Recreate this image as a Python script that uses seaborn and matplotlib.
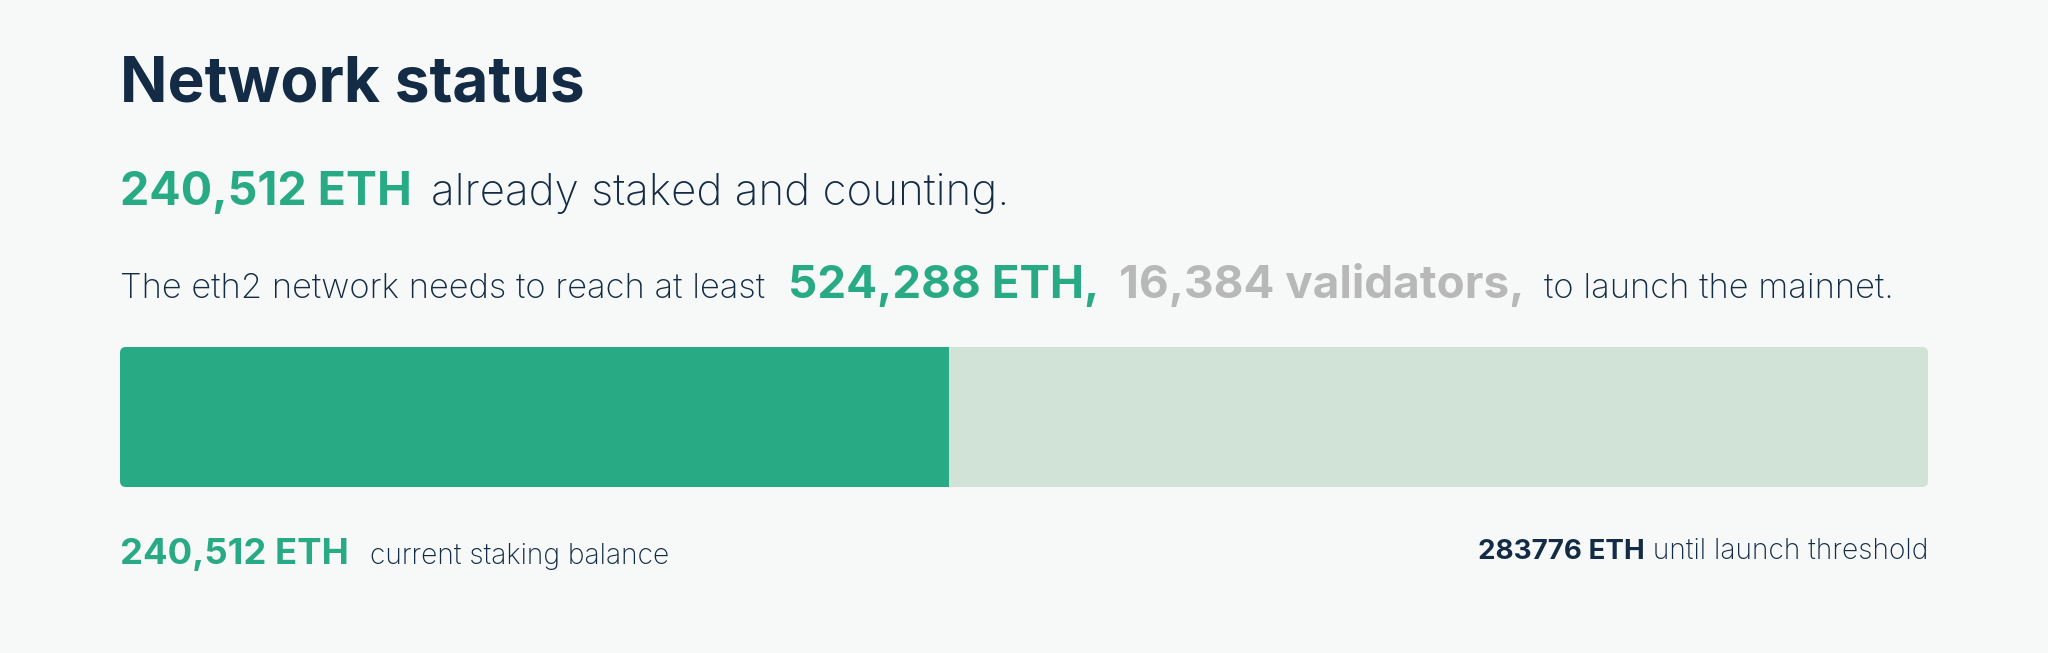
import numpy as np
import matplotlib
matplotlib.use("Agg")
import matplotlib.pyplot as plt
from matplotlib.patches import FancyBboxPatch
import seaborn as sns
import pandas as pd

# datos del estado de la red
staked_eth = 240512
threshold_eth = 524288
validators_needed = 16384
remaining_eth = 283776

staked_label = "240,512 ETH"
threshold_label = "524,288 ETH,"
validators_label = "16,384 validators,"

sns.set_theme(style="white")
plt.rcParams['font.family'] = ['Inter', 'DejaVu Sans']

bg = "#f7f9f9"
navy = "#132b44"
green = "#28ab84"
light = "#d1e3d7"
gray = "#b8b8b8"
thin = "light"

W, H = 2048, 653
fig = plt.figure(figsize=(W / 100, H / 100), dpi=100, facecolor=bg)

##ejes de texto en coordenadas de pixel
tax = fig.add_axes([0, 0, 1, 1])
tax.set_xlim(0, W)
tax.set_ylim(H, 0)
tax.axis("off")
tax.set_facecolor(bg)

tax.text(120, 102, "Network status", fontsize=44.8, fontweight="bold", color=navy, va="baseline")

tax.text(120, 205, staked_label, fontsize=33.5, fontweight="bold", color=green, va="baseline")
tax.text(431, 205, "already staked and counting.", fontsize=31.6, fontweight=thin, color=navy, va="baseline")

tax.text(120, 298, "The eth2 network needs to reach at least", fontsize=24.9, fontweight=thin, color=navy, va="baseline")
tax.text(788, 298, threshold_label, fontsize=32.9, fontweight="bold", color=green, va="baseline")
tax.text(1119, 298, validators_label, fontsize=33, fontweight="bold", color=gray, va="baseline")
tax.text(1544, 298, "to launch the mainnet.", fontsize=24.9, fontweight=thin, color=navy, va="baseline")

tax.text(120, 564, staked_label, fontsize=26.3, fontweight="bold", color=green, va="baseline")
tax.text(370, 564, "current staking balance", fontsize=20.3, fontweight=thin, color=navy, va="baseline")

txt = tax.text(1928, 559, " until launch threshold", fontsize=20.3, fontweight=thin, color=navy, va="baseline", ha="right")
fig.canvas.draw()
bb = txt.get_window_extent()
x_left = bb.x0 * 1.0
tax.text(x_left, 559, f"{remaining_eth} ETH", fontsize=20, fontweight="bold", color=navy,
         va="baseline", ha="right")

##barra de progreso
x0, x1, y_top, y_bot = 120, 1928, 347, 487
bax = fig.add_axes([x0 / W, (H - y_bot) / H, (x1 - x0) / W, (y_bot - y_top) / H])
sns.barplot(x=[threshold_eth], y=["eth2"], color=light, ax=bax, width=1, orient="h", saturation=1)
sns.barplot(x=[staked_eth], y=["eth2"], color=green, ax=bax, width=1, orient="h", saturation=1)
bax.set_xlim(0, threshold_eth)
bax.set_ylim(0.5, -0.5)
bax.axis("off")

clip = FancyBboxPatch((x0 / 100, (H - y_bot) / 100), (x1 - x0) / 100, (y_bot - y_top) / 100,
                      boxstyle="round,pad=0,rounding_size=0.06", transform=fig.dpi_scale_trans,
                      facecolor="none", edgecolor="none")
fig.add_artist(clip)
for p in bax.patches:
    p.set_edgecolor("none")
    p.set_clip_path(clip)

fig.savefig("out.png", dpi=100, facecolor=bg)
